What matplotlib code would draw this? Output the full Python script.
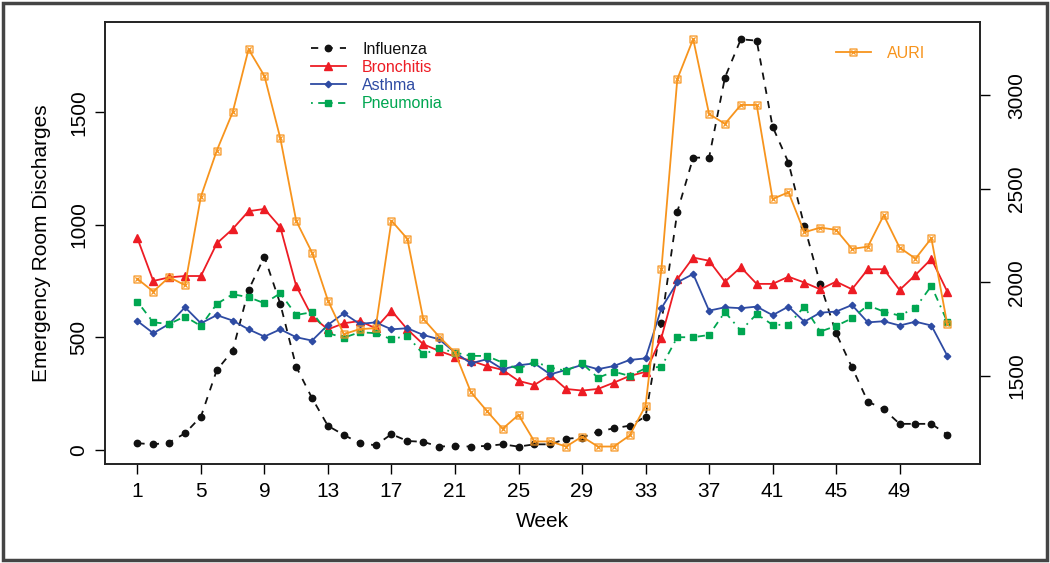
import numpy as np
import matplotlib
matplotlib.use("Agg")
from matplotlib import pyplot as plt
from matplotlib.path import Path
from matplotlib.patches import Rectangle

# weekly counts
weeks = list(range(1, 53))

influenza = [30, 25, 33, 74, 148, 355, 441, 711, 859, 649,
             370, 230, 107, 67, 30, 21, 70, 40, 36, 15,
             18, 15, 18, 25, 15, 25, 25, 50, 55, 82,
             96, 108, 148, 566, 1058, 1299, 1299, 1655, 1825, 1819,
             1437, 1277, 996, 738, 519, 367, 215, 181, 116, 116,
             116, 68]

bronchitis = [941, 751, 767, 773, 773, 918, 982, 1061, 1071, 990,
              729, 593, 536, 563, 573, 541, 619, 536, 470, 440,
              415, 397, 373, 356, 307, 289, 333, 271, 264, 271,
              299, 329, 347, 499, 759, 855, 841, 748, 812, 738,
              738, 770, 744, 714, 748, 714, 803, 803, 711, 778,
              849, 704]

asthma = [573, 519, 560, 634, 563, 599, 575, 536, 504, 536,
          501, 486, 556, 607, 560, 567, 536, 541, 511, 492,
          433, 385, 403, 359, 376, 385, 336, 356, 378, 359,
          373, 400, 407, 630, 745, 782, 619, 634, 630, 637,
          599, 637, 570, 610, 615, 644, 567, 572, 553, 570,
          553, 419]

pneumonia = [659, 567, 560, 593, 551, 649, 692, 679, 652, 696,
             600, 612, 519, 499, 523, 519, 492, 508, 425, 452,
             433, 418, 418, 388, 359, 393, 366, 352, 385, 321,
             348, 329, 363, 370, 501, 501, 511, 613, 530, 604,
             556, 556, 637, 526, 551, 585, 643, 615, 597, 632,
             729, 570]

# AURI uses the right hand axis
auri = [2018, 1950, 2027, 1984, 2458, 2704, 2909, 3246, 3103, 2770,
        2328, 2158, 1902, 1722, 1749, 1754, 2329, 2232, 1804, 1709,
        1624, 1412, 1312, 1216, 1290, 1148, 1148, 1121, 1174, 1121,
        1121, 1180, 1339, 2070, 3086, 3301, 2900, 2847, 2948, 2948,
        2445, 2481, 2267, 2292, 2280, 2178, 2190, 2358, 2185, 2126,
        2235, 1775]

xticks = list(range(1, 50, 4))
left_ticks = [0, 500, 1000, 1500]
right_ticks = [1500, 2000, 2500, 3000]

plt.rcParams['font.family'] = ['Liberation Sans', 'DejaVu Sans']

c_black = '#111111'
c_red = '#ED1C24'
c_blue = '#2E4BA3'
c_green = '#00A651'
c_orange = '#F7941D'

# square with a cross inside, like the AURI marker
box_x = Path([(-1, -1), (1, -1), (1, 1), (-1, 1), (-1, -1),
              (-0.6, -0.6), (0.6, 0.6), (-0.6, 0.6), (0.6, -0.6)],
             [Path.MOVETO, Path.LINETO, Path.LINETO, Path.LINETO, Path.CLOSEPOLY,
              Path.MOVETO, Path.LINETO, Path.MOVETO, Path.LINETO])

fig = plt.figure(figsize=(10.5, 5.63), dpi=100)
ax = fig.add_axes([0.1, 0.176, 0.833, 0.785])

ax.plot(weeks, influenza, color=c_black, lw=1.3, dashes=(4, 4),
        marker='o', ms=4.6, label='Influenza')
ax.plot(weeks, bronchitis, color=c_red, lw=1.3,
        marker='^', ms=6.3, label='Bronchitis')
ax.plot(weeks, asthma, color=c_blue, lw=1.3,
        marker='D', ms=3.3, label='Asthma')
ax.plot(weeks, pneumonia, color=c_green, lw=1.3, dashes=(1, 3, 4, 3),
        marker='s', ms=4.6, label='Pneumonia')

ax.set_xlim(-1.04, 54.04)
ax.set_ylim(-62, 1902)
ax.set_xticks(xticks)
ax.set_yticks(left_ticks)
ax.set_yticklabels([str(t) for t in left_ticks], rotation=90, va='center')
ax.tick_params(labelsize=15, length=7, width=1, direction='out', pad=6)
ax.tick_params(axis='y', pad=5)
ax.set_xlabel('Week', fontsize=15, labelpad=8)
ax.set_ylabel('Emergency Room Discharges', fontsize=15, labelpad=13)

ax2 = ax.twinx()
ax2.plot(weeks, auri, color=c_orange, lw=1.3,
         marker=box_x, ms=5, mfc='none', mew=0.9, label='AURI')
ax2.set_ylim(1028, 3392)
ax2.set_yticks(right_ticks)
ax2.set_yticklabels([str(t) for t in right_ticks], rotation=90, va='center')
ax2.tick_params(labelsize=15, length=7, width=1, direction='out', pad=13)

for a in (ax, ax2):
    for s in a.spines.values():
        s.set_linewidth(1.2)
        s.set_color('#222222')

leg = ax2.legend(*ax.get_legend_handles_labels(), loc='upper left',
                 bbox_to_anchor=(0.219, 0.988), frameon=False, fontsize=11.5,
                 handlelength=2.2, labelspacing=0.2, handletextpad=1.0)
for txt, col in zip(leg.get_texts(), [c_black, c_red, c_blue, c_green]):
    txt.set_color(col)
ax2.add_artist(leg)

leg2 = ax2.legend(loc='upper left', bbox_to_anchor=(0.819, 0.978), frameon=False,
                  fontsize=11.5, handlelength=2.2, handletextpad=1.0)
leg2.get_texts()[0].set_color(c_orange)

# border round the whole picture
fig.patches.append(Rectangle((0.003, 0.005), 0.994, 0.99, transform=fig.transFigure,
                             fill=False, lw=2.5, edgecolor='#444444'))

fig.savefig('out.png', dpi=100)
